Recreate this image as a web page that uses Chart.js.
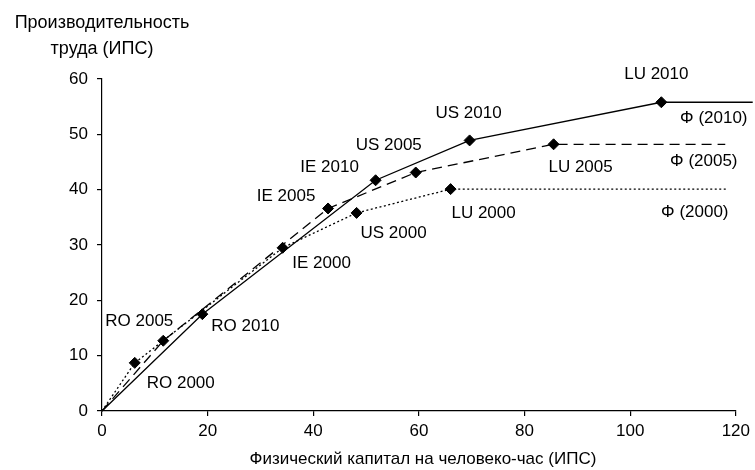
<!DOCTYPE html>
<html>
<head>
<meta charset="utf-8">
<script src="https://cdn.jsdelivr.net/npm/chart.js@4.4.1/dist/chart.umd.min.js"></script>
<style>
  html, body { margin: 0; padding: 0; background: #fff; }
  #wrap { width: 755px; height: 470px; position: relative; }
</style>
</head>
<body>
<div id="wrap"><canvas id="c" width="755" height="470"></canvas></div>
<script>
// Countries on each frontier, ordered by capital stock
const countries = ['RO', 'IE', 'US', 'LU'];
const years = ['2000', '2005', '2010'];

// Physical capital per hour worked (PPS) and labour productivity (PPS)
const capital2000 = [6.2, 34.2, 48.2, 66.0];
const output2000  = [8.7, 29.5, 35.8, 40.1];
const capital2005 = [11.6, 42.8, 59.4, 85.5];
const output2005  = [12.7, 36.6, 43.1, 48.2];
const capital2010 = [19.0, 51.8, 69.6, 105.9];
const output2010  = [17.5, 41.7, 48.9, 55.8];

// Capital level where each flat frontier segment stops
const frontierEnd = [118.5, 118.0, 123.2];

// Axis ticks
const xTicks = [0, 20, 40, 60, 80, 100, 120];
const yTicks = [0, 10, 20, 30, 40, 50, 60];

function frontier(capital, output, end) {
  const pts = [{ x: 0, y: 0 }];
  capital.forEach((k, i) => pts.push({ x: k, y: output[i], name: countries[i] }));
  pts.push({ x: end, y: output[output.length - 1] });
  return pts;
}

// label placement relative to each marker (pixels)
const labelOffsets = {
  'RO 2000': [46, 20],  'RO 2005': [-24, -19], 'RO 2010': [43, 12],
  'IE 2000': [39, 16],  'IE 2005': [-42, -12], 'IE 2010': [-46, -13],
  'US 2000': [37, 20],  'US 2005': [-27, -27], 'US 2010': [-1, -27],
  'LU 2000': [33, 24],  'LU 2005': [27, 23],   'LU 2010': [-5, -28]
};
const phiOffsets = [[-41, 23], [-32, 17], [-22, 16]];

const LABEL_FONT = '17px "Liberation Sans", Arial, sans-serif';
const TITLE_FONT = '18px "Liberation Sans", Arial, sans-serif';
const XTITLE_FONT = '17px "Liberation Sans", Arial, sans-serif';

const markerRadius = ctx => {
  const n = ctx.dataset.data.length;
  return (ctx.dataIndex === 0 || ctx.dataIndex === n - 1) ? 0 : 5.5;
};

const lineStyle = {
  borderColor: '#000',
  borderWidth: 1.3,
  pointBackgroundColor: '#000',
  pointBorderColor: '#000',
  pointBorderWidth: 1,
  pointStyle: 'rectRot',
  pointRadius: markerRadius,
  pointHoverRadius: markerRadius,
  tension: 0,
  clip: false,
  fill: false
};

const annotate = {
  id: 'annotate',
  afterDatasetsDraw(chart) {
    const c = chart.ctx;
    const area = chart.chartArea;
    const xs = chart.scales.x, ys = chart.scales.y;
    c.save();
    c.fillStyle = '#000';
    c.font = LABEL_FONT;
    c.textAlign = 'center';
    c.textBaseline = 'middle';
    chart.data.datasets.forEach((ds, di) => {
      ds.data.forEach(p => {
        if (!p.name) return;
        const txt = p.name + ' ' + years[di];
        const off = labelOffsets[txt];
        c.fillText(txt, xs.getPixelForValue(p.x) + off[0], ys.getPixelForValue(p.y) + off[1]);
      });
      const last = ds.data[ds.data.length - 1];
      const po = phiOffsets[di];
      c.fillText('Φ (' + years[di] + ')', area.right + po[0], ys.getPixelForValue(last.y) + po[1]);
    });
    // axis titles
    c.font = TITLE_FONT;
    c.textBaseline = 'alphabetic';
    c.fillText('Производительность', area.left, 28);
    c.fillText('труда (ИПС)', area.left, 54);
    c.font = XTITLE_FONT;
    c.fillText('Физический капитал на человеко-час (ИПС)', (area.left + area.right) / 2 + 4, 464);
    c.restore();
  }
};

const tickFont = { family: '"Liberation Sans", Arial, sans-serif', size: 17 };

new Chart(document.getElementById('c'), {
  type: 'line',
  data: {
    datasets: [
      Object.assign({ label: 'Φ (2000)', data: frontier(capital2000, output2000, frontierEnd[0]), borderDash: [2, 2.5] }, lineStyle),
      Object.assign({ label: 'Φ (2005)', data: frontier(capital2005, output2005, frontierEnd[1]), borderDash: [10, 6] }, lineStyle),
      Object.assign({ label: 'Φ (2010)', data: frontier(capital2010, output2010, frontierEnd[2]) }, lineStyle)
    ]
  },
  options: {
    responsive: false,
    animation: false,
    events: [],
    layout: { padding: { top: 79, right: 17, left: 0, bottom: 0 } },
    plugins: { legend: { display: false }, tooltip: { enabled: false } },
    scales: {
      x: {
        type: 'linear',
        min: xTicks[0],
        max: xTicks[xTicks.length - 1],
        afterBuildTicks: s => { s.ticks = xTicks.map(v => ({ value: v })); },
        afterFit: s => { s.height = 59; },
        ticks: { color: '#000', font: tickFont, padding: 5, maxRotation: 0 },
        grid: { drawOnChartArea: false, drawTicks: true, tickLength: 5, color: '#000', lineWidth: 1.2 },
        border: { color: '#000', width: 1.2 }
      },
      y: {
        type: 'linear',
        min: yTicks[0],
        max: yTicks[yTicks.length - 1],
        afterBuildTicks: s => { s.ticks = yTicks.map(v => ({ value: v })); },
        afterFit: s => { s.width = 102; },
        ticks: { color: '#000', font: tickFont, padding: 9 },
        grid: { drawOnChartArea: false, drawTicks: true, tickLength: 5, color: '#000', lineWidth: 1.2 },
        border: { color: '#000', width: 1.2 }
      }
    }
  },
  plugins: [annotate]
});
</script>
</body>
</html>
